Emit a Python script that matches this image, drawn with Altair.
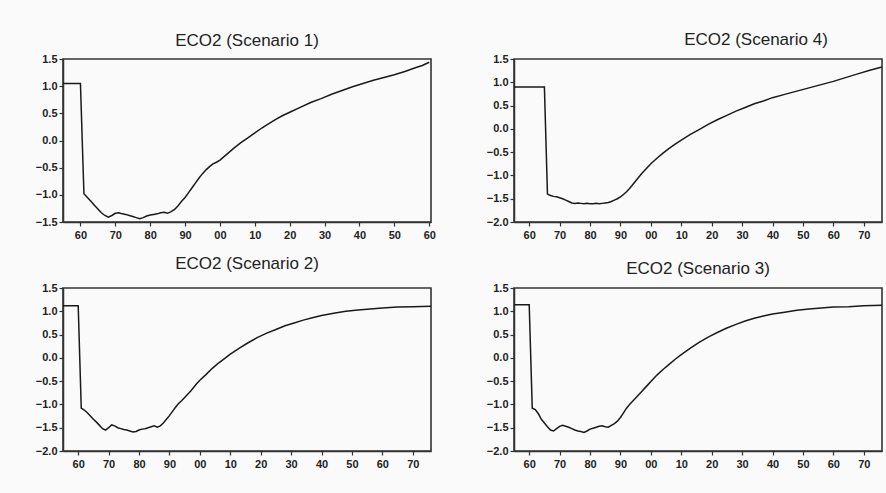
import altair as alt
import pandas as pd

# ---------------- data ----------------
years_s1 = [1955, 1956, 1957, 1958, 1959, 1960, 1961, 1962, 1963, 1964, 1965, 1966, 1967, 1968, 1969,
            1970, 1971, 1972, 1973, 1974, 1975, 1976, 1977, 1978, 1979, 1980, 1981, 1982, 1983, 1984,
            1985, 1986, 1987, 1988, 1989, 1990, 1991, 1992, 1993, 1994, 1995, 1996, 1997, 1998, 1999,
            2000, 2002, 2004, 2006, 2008, 2010, 2012, 2014, 2016, 2018, 2020, 2023, 2026, 2029, 2032,
            2035, 2038, 2041, 2044, 2047, 2050, 2053, 2056, 2058, 2060]
values_s1 = [1.05, 1.05, 1.05, 1.05, 1.05, 1.05, -0.98, -1.05, -1.12, -1.19, -1.26, -1.33, -1.38, -1.41, -1.38,
             -1.34, -1.33, -1.35, -1.36, -1.38, -1.40, -1.42, -1.44, -1.42, -1.39, -1.37, -1.36, -1.35, -1.33, -1.32,
             -1.34, -1.31, -1.27, -1.20, -1.12, -1.05, -0.96, -0.87, -0.78, -0.69, -0.61, -0.54, -0.48, -0.43, -0.40,
             -0.36, -0.25, -0.14, -0.04, 0.05, 0.14, 0.23, 0.31, 0.39, 0.46, 0.52, 0.61, 0.70, 0.77, 0.85,
             0.92, 0.99, 1.05, 1.11, 1.16, 1.21, 1.27, 1.34, 1.38, 1.44]

years_s4 = [1955, 1956, 1957, 1958, 1959, 1960, 1961, 1962, 1963, 1964, 1965, 1966, 1967, 1968, 1969,
            1970, 1971, 1972, 1973, 1974, 1975, 1976, 1977, 1978, 1979, 1980, 1981, 1982, 1983, 1984,
            1985, 1986, 1987, 1988, 1989, 1990, 1991, 1992, 1993, 1994, 1995, 1996, 1997, 1998, 1999,
            2000, 2002, 2004, 2006, 2008, 2010, 2013, 2016, 2019, 2022, 2025, 2028, 2031, 2034, 2037,
            2040, 2044, 2048, 2052, 2056, 2060, 2064, 2068, 2072, 2076]
values_s4 = [0.90, 0.90, 0.90, 0.90, 0.90, 0.90, 0.90, 0.90, 0.90, 0.90, 0.90, -1.40, -1.43, -1.45, -1.46,
             -1.48, -1.50, -1.53, -1.56, -1.59, -1.60, -1.59, -1.60, -1.61, -1.60, -1.61, -1.61, -1.60, -1.61, -1.60,
             -1.59, -1.58, -1.56, -1.53, -1.50, -1.46, -1.41, -1.35, -1.28, -1.20, -1.12, -1.04, -0.96, -0.89, -0.82,
             -0.75, -0.63, -0.52, -0.42, -0.33, -0.24, -0.12, -0.01, 0.10, 0.20, 0.29, 0.38, 0.46, 0.54, 0.60,
             0.67, 0.74, 0.81, 0.88, 0.95, 1.02, 1.10, 1.18, 1.26, 1.33]

years_s2 = [1955, 1956, 1957, 1958, 1959, 1960, 1961, 1962, 1963, 1964, 1965, 1966, 1967, 1968, 1969,
            1970, 1971, 1972, 1973, 1974, 1975, 1976, 1977, 1978, 1979, 1980, 1981, 1982, 1983, 1984,
            1985, 1986, 1987, 1988, 1989, 1990, 1991, 1992, 1993, 1994, 1995, 1996, 1997, 1998, 1999,
            2000, 2002, 2004, 2006, 2008, 2010, 2013, 2016, 2019, 2022, 2025, 2028, 2031, 2034, 2037,
            2040, 2044, 2048, 2052, 2056, 2060, 2065, 2070, 2076]
values_s2 = [1.12, 1.12, 1.12, 1.12, 1.12, 1.12, -1.08, -1.12, -1.18, -1.25, -1.32, -1.38, -1.45, -1.52, -1.55,
             -1.50, -1.44, -1.46, -1.50, -1.52, -1.54, -1.55, -1.57, -1.59, -1.58, -1.55, -1.53, -1.52, -1.50, -1.48,
             -1.46, -1.49, -1.46, -1.40, -1.32, -1.24, -1.15, -1.06, -0.98, -0.92, -0.85, -0.78, -0.71, -0.63, -0.55,
             -0.48, -0.36, -0.23, -0.12, -0.02, 0.08, 0.21, 0.33, 0.44, 0.53, 0.61, 0.69, 0.75, 0.81, 0.86,
             0.91, 0.96, 1.00, 1.03, 1.05, 1.07, 1.09, 1.10, 1.11]

years_s3 = [1955, 1956, 1957, 1958, 1959, 1960, 1961, 1962, 1963, 1964, 1965, 1966, 1967, 1968, 1969,
            1970, 1971, 1972, 1973, 1974, 1975, 1976, 1977, 1978, 1979, 1980, 1981, 1982, 1983, 1984,
            1985, 1986, 1987, 1988, 1989, 1990, 1991, 1992, 1993, 1994, 1995, 1996, 1997, 1998, 1999,
            2000, 2002, 2004, 2006, 2008, 2010, 2013, 2016, 2019, 2022, 2025, 2028, 2031, 2034, 2037,
            2040, 2044, 2048, 2052, 2056, 2060, 2065, 2070, 2076]
values_s3 = [1.14, 1.14, 1.14, 1.14, 1.14, 1.14, -1.08, -1.11, -1.20, -1.32, -1.40, -1.48, -1.55, -1.57, -1.52,
             -1.47, -1.45, -1.47, -1.49, -1.52, -1.55, -1.57, -1.58, -1.60, -1.57, -1.53, -1.51, -1.49, -1.47, -1.46,
             -1.48, -1.49, -1.45, -1.41, -1.36, -1.28, -1.18, -1.08, -1.00, -0.93, -0.86, -0.79, -0.72, -0.65, -0.58,
             -0.51, -0.37, -0.25, -0.14, -0.03, 0.07, 0.21, 0.34, 0.45, 0.55, 0.64, 0.72, 0.79, 0.85, 0.90,
             0.94, 0.98, 1.02, 1.05, 1.07, 1.09, 1.10, 1.12, 1.13]

titles = ["ECO2 (Scenario 1)", "ECO2 (Scenario 4)", "ECO2 (Scenario 2)", "ECO2 (Scenario 3)"]
xticks_short = [1960, 1970, 1980, 1990, 2000, 2010, 2020, 2030, 2040, 2050, 2060]
xticks_long = [1960, 1970, 1980, 1990, 2000, 2010, 2020, 2030, 2040, 2050, 2060, 2070]
yticks_s1 = [-1.5, -1.0, -0.5, 0.0, 0.5, 1.0, 1.5]
yticks_other = [-2.0, -1.5, -1.0, -0.5, 0.0, 0.5, 1.0, 1.5]

INK = "#222222"
FONT = "Liberation Sans"


def panel(years, values, title, xmax, ymin, xticks, yticks, title_dx=0, title_offset=3):
    df = pd.DataFrame({"year": years, "value": values})
    return (
        alt.Chart(df, title=alt.Title(title, fontSize=17, fontWeight="normal", font=FONT,
                                      color=INK, offset=title_offset, dx=title_dx, anchor="middle"))
        .mark_line(color="#1a1a1a", strokeWidth=1.5)
        .encode(
            x=alt.X("year:Q",
                    scale=alt.Scale(domain=[1955, xmax], nice=False, zero=False),
                    axis=alt.Axis(values=xticks, title=None, grid=False,
                                  labelExpr="slice('0' + (datum.value % 100), -2)",
                                  labelFlush=False, labelOverlap=False,
                                  labelFont=FONT, labelFontSize=11, labelFontWeight="bold",
                                  labelColor=INK, labelPadding=3,
                                  tickSize=4, tickColor="#333", tickWidth=1.2,
                                  domainColor="#333", domainWidth=1.5)),
            y=alt.Y("value:Q",
                    scale=alt.Scale(domain=[ymin, 1.5], nice=False, zero=False),
                    axis=alt.Axis(values=yticks, format=".1f", title=None, grid=False,
                                  labelFlush=False, labelOverlap=False,
                                  labelFont=FONT, labelFontSize=11, labelFontWeight="bold",
                                  labelColor=INK, labelPadding=2,
                                  tickSize=4, tickColor="#333", tickWidth=1.2,
                                  domainColor="#333", domainWidth=1.5)),
        )
        .properties(width=368, height=163)
    )


p1 = panel(years_s1, values_s1, titles[0], 2060.5, -1.5, xticks_short, yticks_s1)
p4 = panel(years_s4, values_s4, titles[1], 2076, -2.0, xticks_long, yticks_other, title_dx=58, title_offset=4)
p2 = panel(years_s2, values_s2, titles[2], 2076, -2.0, xticks_long, yticks_other, title_offset=9)
p3 = panel(years_s3, values_s3, titles[3], 2076, -2.0, xticks_long, yticks_other, title_offset=4)

chart = (
    alt.concat(p1, p4, p2, p3, columns=2, spacing={"row": 66, "column": 83}, bounds="flush")
    .configure(background="#fafafb", padding={"left": 34, "top": 30, "right": 0, "bottom": 30})
    .configure_view(stroke="#333333", strokeWidth=1.6)
)

chart.save("out.html", embed_options={"renderer": "svg", "actions": False})
